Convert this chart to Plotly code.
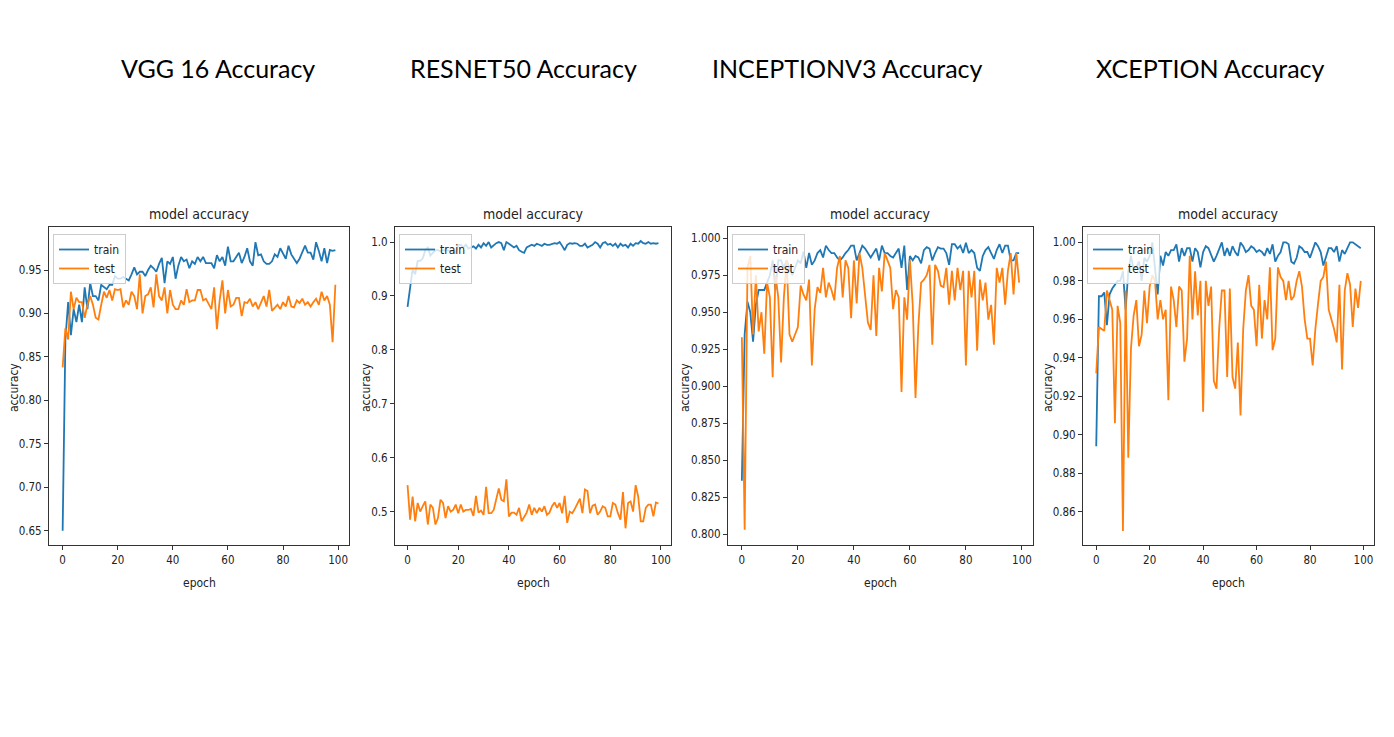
import plotly.graph_objects as go

epochs = list(range(100))

vgg_train = [0.65, 0.87, 0.913, 0.875, 0.905, 0.89, 0.91, 0.89, 0.93, 0.905,
             0.935, 0.92, 0.92, 0.915, 0.933, 0.93, 0.928, 0.933, 0.933, 0.943,
             0.94, 0.94, 0.942, 0.94, 0.938, 0.945, 0.953, 0.945, 0.948, 0.948,
             0.943, 0.95, 0.955, 0.952, 0.948, 0.957, 0.964, 0.935, 0.96, 0.957,
             0.965, 0.94, 0.955, 0.965, 0.96, 0.962, 0.952, 0.96, 0.957, 0.965,
             0.96, 0.965, 0.958, 0.958, 0.958, 0.952, 0.967, 0.96, 0.965, 0.955,
             0.977, 0.96, 0.96, 0.965, 0.97, 0.958, 0.965, 0.975, 0.96, 0.955,
             0.982, 0.967, 0.968, 0.96, 0.957, 0.957, 0.96, 0.968, 0.965, 0.975,
             0.968, 0.963, 0.978, 0.968, 0.963, 0.958, 0.963, 0.97, 0.978, 0.97,
             0.97, 0.962, 0.982, 0.972, 0.96, 0.975, 0.958, 0.973, 0.972, 0.973]
vgg_test = [0.838, 0.883, 0.87, 0.925, 0.905, 0.918, 0.913, 0.913, 0.895, 0.91,
            0.92, 0.91, 0.895, 0.893, 0.91, 0.925, 0.918, 0.927, 0.915, 0.928,
            0.927, 0.928, 0.907, 0.915, 0.91, 0.925, 0.92, 0.905, 0.945, 0.9,
            0.92, 0.922, 0.93, 0.907, 0.945, 0.92, 0.915, 0.93, 0.9, 0.927,
            0.91, 0.905, 0.905, 0.915, 0.91, 0.928, 0.913, 0.915, 0.915, 0.927,
            0.927, 0.915, 0.917, 0.91, 0.905, 0.93, 0.882, 0.915, 0.938, 0.9,
            0.927, 0.908, 0.91, 0.918, 0.918, 0.897, 0.913, 0.912, 0.917, 0.908,
            0.913, 0.905, 0.912, 0.92, 0.908, 0.927, 0.903, 0.906, 0.91, 0.905,
            0.913, 0.908, 0.92, 0.908, 0.907, 0.915, 0.912, 0.917, 0.91, 0.913,
            0.908, 0.913, 0.917, 0.91, 0.925, 0.915, 0.92, 0.91, 0.867, 0.933]

resnet_train = [0.88, 0.92, 0.95, 0.94, 0.965, 0.965, 0.97, 0.985, 0.99, 0.975,
                0.98, 0.985, 0.985, 0.983, 0.985, 0.985, 0.985, 0.984, 0.983, 0.98,
                0.995, 0.995, 0.99, 0.995, 0.988, 0.99, 0.992, 0.988, 0.995, 0.99,
                0.998, 0.993, 1.0, 0.99, 0.995, 0.998, 1.0, 0.998, 0.985, 1.0,
                0.997, 0.993, 0.99, 0.993, 0.985, 0.982, 0.98, 0.99, 0.993, 0.995,
                0.993, 0.997, 0.995, 0.993, 0.997, 0.995, 0.995, 0.997, 0.998, 0.997,
                1.0, 0.993, 0.985, 0.995, 0.998, 0.997, 0.998, 0.997, 0.993, 0.993,
                0.997, 0.99, 0.993, 0.995, 1.0, 0.997, 0.99, 0.998, 1.0, 0.995,
                0.997, 0.993, 0.997, 0.99, 0.997, 0.993, 0.995, 0.99, 0.997, 0.993,
                0.998, 0.997, 1.002, 0.998, 0.997, 1.0, 0.997, 0.998, 0.997, 0.998]
resnet_test = [0.549, 0.485, 0.528, 0.482, 0.516, 0.5, 0.51, 0.519, 0.476, 0.513,
               0.507, 0.476, 0.488, 0.522, 0.516, 0.488, 0.51, 0.5, 0.503, 0.513,
               0.497, 0.513, 0.5, 0.503, 0.503, 0.505, 0.492, 0.529, 0.498, 0.502,
               0.494, 0.546, 0.497, 0.497, 0.503, 0.522, 0.543, 0.522, 0.519, 0.56,
               0.491, 0.498, 0.498, 0.494, 0.507, 0.482, 0.491, 0.498, 0.513, 0.494,
               0.507, 0.497, 0.507, 0.5, 0.51, 0.494, 0.498, 0.51, 0.517, 0.507,
               0.516, 0.497, 0.529, 0.479, 0.5, 0.497, 0.505, 0.516, 0.524, 0.497,
               0.541, 0.538, 0.497, 0.511, 0.513, 0.494, 0.5, 0.51, 0.507, 0.491,
               0.491, 0.516, 0.513, 0.497, 0.485, 0.536, 0.469, 0.516, 0.519, 0.5,
               0.549, 0.528, 0.482, 0.482, 0.507, 0.513, 0.513, 0.491, 0.517, 0.515]

inception_train = [0.836, 0.935, 0.957, 0.95, 0.93, 0.955, 0.965, 0.965, 0.965, 0.97,
                   0.975, 0.985, 0.965, 0.985, 0.985, 0.98, 0.985, 0.98, 0.975, 0.98,
                   0.985, 0.983, 0.991, 0.98, 0.99, 0.982, 0.985, 0.99, 0.992, 0.987,
                   0.995, 0.992, 0.99, 0.99, 0.987, 0.985, 0.987, 0.99, 0.992, 0.995,
                   0.995, 0.985, 0.99, 0.995, 0.993, 0.99, 0.987, 0.99, 0.993, 0.985,
                   0.995, 0.99, 0.99, 0.988, 0.987, 0.99, 0.993, 0.98, 0.995, 0.965,
                   0.988, 0.985, 0.988, 0.987, 0.983, 0.992, 0.994, 0.993, 0.985, 0.99,
                   0.994, 0.993, 0.993, 0.99, 0.982, 0.996, 0.996, 0.993, 0.995, 0.99,
                   0.997, 0.99, 0.992, 0.99, 0.98, 0.978, 0.988, 0.992, 0.994, 0.99,
                   0.986, 0.992, 0.996, 0.99, 0.995, 0.995, 0.985, 0.985, 0.99, 0.99]
inception_test = [0.933, 0.803, 0.98, 0.988, 0.935, 0.975, 0.937, 0.95, 0.922, 0.97,
                  0.96, 0.906, 0.975, 0.96, 0.916, 0.96, 0.985, 0.935, 0.93, 0.935,
                  0.94, 0.968, 0.962, 0.958, 0.972, 0.914, 0.952, 0.967, 0.963, 0.98,
                  0.96, 0.97, 0.965, 0.958, 0.98, 0.988, 0.96, 0.985, 0.98, 0.946,
                  0.985, 0.956, 0.99, 0.98, 0.96, 0.943, 0.938, 0.975, 0.934, 0.98,
                  0.964, 0.99, 0.985, 0.98, 0.952, 0.965, 0.96, 0.896, 0.96, 0.945,
                  0.985, 0.955, 0.892, 0.94, 0.97, 0.972, 0.975, 0.982, 0.928, 0.982,
                  0.978, 0.968, 0.967, 0.98, 0.955, 0.978, 0.958, 0.98, 0.965, 0.978,
                  0.914, 0.978, 0.96, 0.978, 0.924, 0.972, 0.958, 0.97, 0.945, 0.955,
                  0.928, 0.98, 0.97, 0.98, 0.955, 0.978, 0.99, 0.962, 0.99, 0.97]

xception_train = [0.894, 0.972, 0.972, 0.974, 0.957, 0.973, 0.976, 0.978, 0.98, 0.98,
                  0.985, 0.965, 0.985, 0.993, 0.986, 0.987, 0.99, 0.98, 0.992, 0.99,
                  0.993, 1.0, 0.988, 0.973, 0.993, 0.988, 0.995, 0.993, 0.996, 0.996,
                  0.999, 0.99, 0.997, 0.993, 0.997, 0.997, 0.99, 0.997, 0.995, 0.987,
                  0.995, 0.998, 0.997, 0.993, 0.99, 0.993, 0.997, 1.0, 0.993, 0.997,
                  0.993, 0.998, 0.995, 0.993, 1.0, 0.998, 0.995, 0.996, 0.998, 0.997,
                  0.995, 0.996, 0.995, 0.993, 0.997, 0.994, 0.999, 0.99, 0.993, 0.995,
                  1.0, 1.0, 0.999, 0.99, 0.989, 0.992, 0.998, 0.997, 0.995, 0.995,
                  0.992, 0.996, 1.0, 0.998, 0.995, 0.988, 0.992, 0.997, 0.997, 0.995,
                  0.998, 0.99, 0.996, 0.994, 0.997, 1.0, 1.0, 0.999, 0.998, 0.997]
xception_test = [0.932, 0.956, 0.955, 0.954, 0.975, 0.97, 0.965, 0.906, 0.967, 0.958,
                 0.85, 0.975, 0.888, 0.945, 0.962, 0.97, 0.946, 0.952, 0.975, 0.958,
                 0.977, 0.983, 0.98, 0.96, 0.97, 0.96, 0.965, 0.918, 0.977, 0.97,
                 0.956, 0.977, 0.975, 0.938, 0.95, 0.993, 0.96, 0.985, 0.962, 0.98,
                 0.912, 0.98, 0.967, 0.977, 0.928, 0.924, 0.955, 0.975, 0.975, 0.93,
                 0.976, 0.93, 0.924, 0.948, 0.91, 0.955, 0.975, 0.983, 0.967, 0.965,
                 0.946, 0.978, 0.95, 0.97, 0.96, 0.987, 0.944, 0.95, 0.987, 0.982,
                 0.98, 0.97, 0.98, 0.97, 0.972, 0.98, 0.985, 0.977, 0.96, 0.95,
                 0.95, 0.936, 0.955, 0.968, 0.98, 0.982, 0.99, 0.965, 0.96, 0.955,
                 0.948, 0.978, 0.934, 0.975, 0.984, 0.978, 0.956, 0.976, 0.966, 0.98]

panel_titles = ["VGG 16 Accuracy", "RESNET50 Accuracy", "INCEPTIONV3 Accuracy", "XCEPTION Accuracy"]
x_ticks = [0, 20, 40, 60, 80, 100]
y_ticks = [
    [0.65, 0.70, 0.75, 0.80, 0.85, 0.90, 0.95],
    [0.5, 0.6, 0.7, 0.8, 0.9, 1.0],
    [0.800, 0.825, 0.850, 0.875, 0.900, 0.925, 0.950, 0.975, 1.000],
    [0.86, 0.88, 0.90, 0.92, 0.94, 0.96, 0.98, 1.00],
]
y_tick_fmt = [".2f", ".1f", ".3f", ".2f"]
series = [(vgg_train, vgg_test), (resnet_train, resnet_test),
          (inception_train, inception_test), (xception_train, xception_test)]

# page has an 8px body margin: figure is placed at (8, 8) in the window
OFF = 8
W, H = 1394 - 2 * OFF, 737 - 2 * OFF
# pixel layout (window coordinates) of the four plot frames
frames_px = [(49, 349), (395, 671), (728, 1033), (1083, 1374)]
frame_top, frame_bot = 227, 545
y_ranges = [(0.6335, 0.9995), (0.438, 1.028), (0.7926, 1.0076), (0.8427, 1.008)]
big_title_x = [218, 523, 848, 1210]
ylabel_x = [14, 366, 685, 1048]


def px(xw):
    return (xw - OFF) / W


def py(yw):
    return 1 - (yw - OFF) / H


BLUE = "#1f77b4"
ORANGE = "#ff7f0e"
SMALL_FONT = "DejaVu Sans Condensed, DejaVu Sans, sans-serif"

fig = go.Figure()
layout = dict(
    width=W, height=H,
    margin=dict(l=0, r=0, t=0, b=0),
    paper_bgcolor="white", plot_bgcolor="white",
    showlegend=True,
    annotations=[],
)

for i in range(4):
    xa = "x" if i == 0 else f"x{i+1}"
    ya = "y" if i == 0 else f"y{i+1}"
    lg = "legend" if i == 0 else f"legend{i+1}"
    tr, te = series[i]
    fig.add_trace(go.Scatter(x=epochs, y=tr, mode="lines", name="train",
                             line=dict(color=BLUE, width=1.8), xaxis=xa, yaxis=ya, legend=lg))
    fig.add_trace(go.Scatter(x=epochs, y=te, mode="lines", name="test",
                             line=dict(color=ORANGE, width=1.8), xaxis=xa, yaxis=ya, legend=lg))
    x0, x1 = frames_px[i]
    dom_x = [px(x0), px(x1)]
    dom_y = [py(frame_bot), py(frame_top)]
    axis_common = dict(showline=True, mirror=True, linecolor="#333333", linewidth=1,
                       showgrid=False, zeroline=False, ticks="outside", ticklen=4,
                       tickcolor="#333333",
                       tickfont=dict(family=SMALL_FONT, size=11.5, color="#222222"))
    xkey = "xaxis" if i == 0 else f"xaxis{i+1}"
    ykey = "yaxis" if i == 0 else f"yaxis{i+1}"
    layout[xkey] = dict(domain=dom_x, anchor=ya, range=[-4.95, 103.95],
                        tickvals=x_ticks, ticktext=[str(v) for v in x_ticks], **axis_common)
    layout[ykey] = dict(domain=dom_y, anchor=xa, range=list(y_ranges[i]),
                        tickvals=y_ticks[i],
                        ticktext=[format(v, y_tick_fmt[i]) for v in y_ticks[i]], **axis_common)
    layout[lg] = dict(x=px(x0 + 4), y=py(frame_top + 7), xanchor="left", yanchor="top",
                      bgcolor="rgba(255,255,255,0.8)", bordercolor="#cccccc", borderwidth=1,
                      font=dict(family=SMALL_FONT, size=12, color="#222222"),
                      itemwidth=30, tracegroupgap=0)
    cx = (x0 + x1) / 2
    layout["annotations"] += [
        dict(text=panel_titles[i], x=px(big_title_x[i]), y=py(68), xref="paper", yref="paper",
             showarrow=False, xanchor="center", yanchor="middle",
             font=dict(family="Lato, Carlito, sans-serif", size=25, color="black")),
        dict(text="model accuracy", x=px(cx), y=py(214), xref="paper", yref="paper",
             showarrow=False, xanchor="center", yanchor="middle",
             font=dict(family=SMALL_FONT, size=14, color="#222222")),
        dict(text="epoch", x=px(cx), y=py(583), xref="paper", yref="paper",
             showarrow=False, xanchor="center", yanchor="middle",
             font=dict(family=SMALL_FONT, size=12, color="#222222")),
        dict(text="accuracy", x=px(ylabel_x[i]), y=py(388), xref="paper", yref="paper",
             showarrow=False, xanchor="center", yanchor="middle", textangle=-90,
             font=dict(family=SMALL_FONT, size=12, color="#222222")),
    ]

fig.update_layout(**layout)
fig.write_html("out.html")
